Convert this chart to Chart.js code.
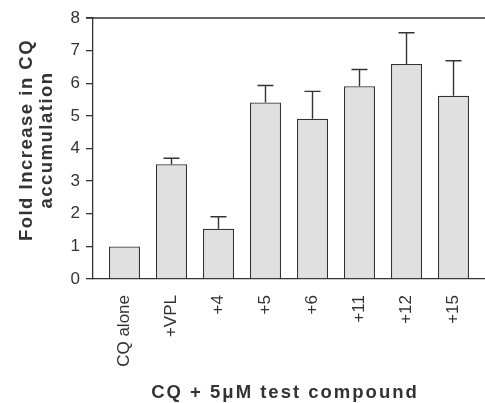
<!DOCTYPE html>
<html>
<head>
<meta charset="utf-8">
<script src="https://cdn.jsdelivr.net/npm/chart.js@4"></script>
<style>
  html, body { margin: 0; padding: 0; background: #fff; }
  #wrap { width: 485px; height: 403px; }
</style>
</head>
<body>
<div id="wrap"><canvas id="foldChart"></canvas></div>
<script>
// --- DATA ---
const categories = ['CQ alone', '+VPL', '+4', '+5', '+6', '+11', '+12', '+15'];
const foldValues = [1.0, 3.52, 1.54, 5.41, 4.91, 5.91, 6.59, 5.62];
const foldErrors = [0, 0.18, 0.37, 0.52, 0.84, 0.51, 0.96, 1.07];
const yTicks = [0, 1, 2, 3, 4, 5, 6, 7, 8];

const yTitleLines = ['Fold Increase in CQ', 'accumulation'];
const xTitle = 'CQ + 5\u03bcM test compound';

const INK = '#333333';
const FONT = "'Liberation Sans', Arial, sans-serif";

// error bars (upper only) drawn from the bar scales
const errorBars = {
    id: 'errorBars',
    afterDatasetsDraw(chart) {
        const { ctx } = chart;
        const y = chart.scales.y;
        const meta = chart.getDatasetMeta(0);
        ctx.save();
        ctx.strokeStyle = INK;
        ctx.lineWidth = 1.4;
        meta.data.forEach((bar, i) => {
            const err = foldErrors[i];
            if (!err) return;
            const yTop = y.getPixelForValue(foldValues[i] + err);
            const yBase = y.getPixelForValue(foldValues[i]);
            ctx.beginPath();
            ctx.moveTo(bar.x, yBase);
            ctx.lineTo(bar.x, yTop);
            ctx.moveTo(bar.x - 8, yTop);
            ctx.lineTo(bar.x + 8, yTop);
            ctx.stroke();
        });
        ctx.restore();
    }
};

// top frame line and the two axis titles
const frameAndTitles = {
    id: 'frameAndTitles',
    afterDraw(chart) {
        const { ctx, chartArea } = chart;
        ctx.save();
        ctx.strokeStyle = INK;
        ctx.lineWidth = 1.3;
        ctx.beginPath();
        ctx.moveTo(chartArea.left - 7, chartArea.top);
        ctx.lineTo(chartArea.right, chartArea.top);
        ctx.stroke();

        ctx.fillStyle = INK;
        ctx.font = `bold 18.5px ${FONT}`;
        ctx.textAlign = 'center';
        ctx.textBaseline = 'middle';

        // y title, two rotated lines
        ctx.letterSpacing = '1.5px';
        const yMid = 140;
        [27, 47].forEach((cx, i) => {
            ctx.save();
            ctx.translate(cx, yMid);
            ctx.rotate(-Math.PI / 2);
            ctx.fillText(yTitleLines[i], 0, 0);
            ctx.restore();
        });

        // x title
        ctx.letterSpacing = '2px';
        ctx.textBaseline = 'alphabetic';
        ctx.fillText(xTitle, 285, 398);
        ctx.restore();
    }
};

const ctx = document.getElementById('foldChart').getContext('2d');
new Chart(ctx, {
    type: 'bar',
    data: {
        datasets: [{
            data: foldValues.map((v, i) => ({ x: i, y: v })),
            backgroundColor: '#e0e0e0',
            borderColor: INK,
            borderWidth: 1.3,
            barPercentage: 0.66,
            categoryPercentage: 1
        }]
    },
    options: {
        responsive: true,
        maintainAspectRatio: false,
        animation: false,
        layout: { padding: { left: 70, top: 18, right: 0, bottom: 0 } },
        plugins: {
            legend: { display: false },
            tooltip: { enabled: false }
        },
        scales: {
            x: {
                type: 'linear',
                offset: false,
                min: -0.67,
                max: 7.67,
                grid: { display: false, offset: false },
                border: { display: true, color: INK, width: 1.3 },
                afterFit: (scale) => { scale.height = 124; },
                ticks: {
                    stepSize: 1,
                    includeBounds: false,
                    autoSkip: false,
                    minRotation: 90,
                    maxRotation: 90,
                    padding: 8,
                    color: INK,
                    font: { family: FONT, size: 17 },
                    callback: (v) => categories[v] ?? ''
                }
            },
            y: {
                min: 0,
                max: 8,
                afterFit: (scale) => { scale.width = 23; },
                afterBuildTicks: (scale) => { scale.ticks = yTicks.map(v => ({ value: v })); },
                grid: { drawOnChartArea: false, tickLength: 7, color: INK, lineWidth: 1.3 },
                border: { display: true, color: INK, width: 1.3 },
                ticks: {
                    padding: 6,
                    color: INK,
                    font: { family: FONT, size: 17 }
                }
            }
        }
    },
    plugins: [errorBars, frameAndTitles]
});
</script>
</body>
</html>
